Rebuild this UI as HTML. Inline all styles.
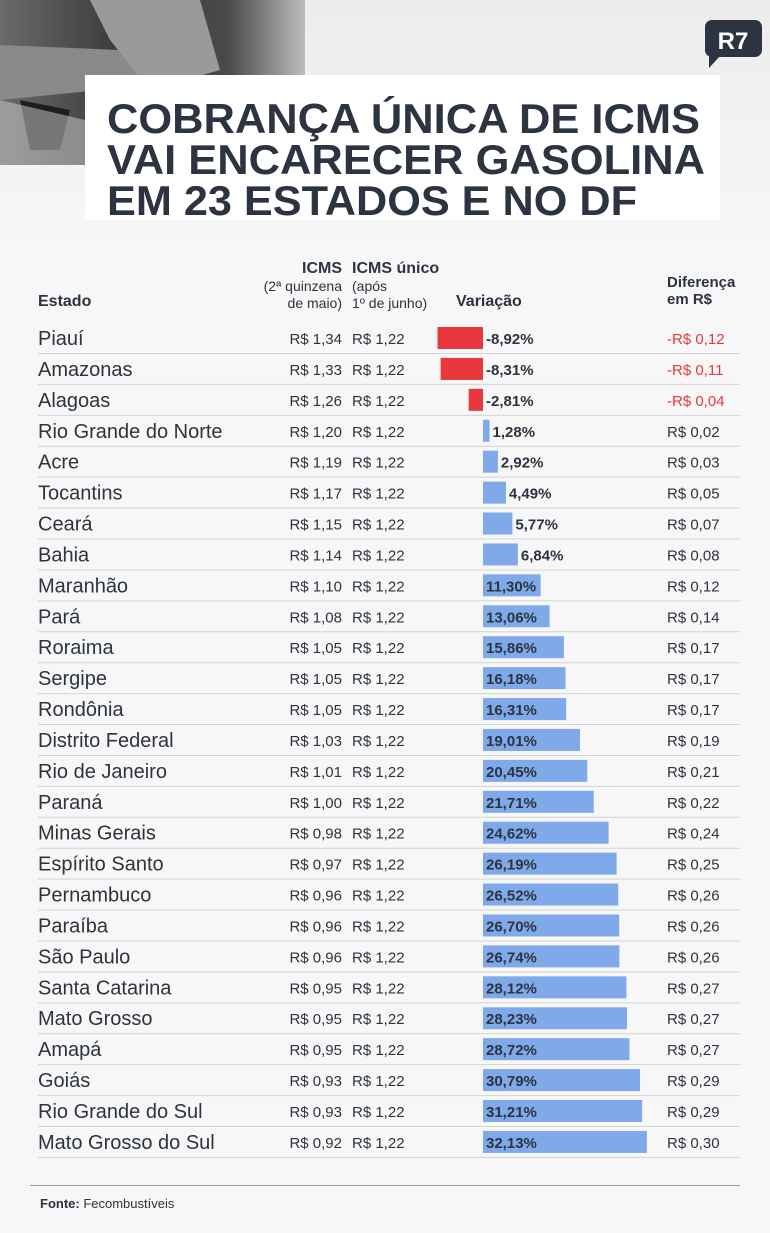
<!DOCTYPE html>
<html><head><meta charset="utf-8">
<style>
html,body{margin:0;padding:0;background:#f7f7f7;}
svg{display:block;font-family:"Liberation Sans",sans-serif;}
</style></head>
<body>
<svg id="s" width="770" height="1233" viewBox="0 0 770 1233" xmlns="http://www.w3.org/2000/svg">
<defs>
<linearGradient id="ph" x1="0" y1="0" x2="1" y2="0">
<stop offset="0" stop-color="#6a6a6a"/><stop offset="0.4" stop-color="#3a3a3a"/><stop offset="0.75" stop-color="#4a4a4a"/><stop offset="1" stop-color="#bdbdbd"/>
</linearGradient>
<linearGradient id="bg" x1="0" y1="0" x2="0" y2="1">
<stop offset="0" stop-color="#ececec"/><stop offset="0.2" stop-color="#f7f7f7"/>
</linearGradient>
</defs>
<rect width="770" height="1233" fill="url(#bg)"/>
<rect x="0" y="0" width="305" height="165" fill="url(#ph)"/>
<path d="M0 45 L120 50 L150 85 L0 100Z" fill="#8a8a8a"/>
<path d="M90 0 L200 0 L220 70 L150 90 L110 40Z" fill="#9a9a9a"/>
<path d="M20 100 L70 110 L60 150 L30 150Z" fill="#1e1e1e"/>
<path d="M0 100 L85 120 L85 165 L0 165Z" fill="#cfcfcf" opacity="0.5"/>
<rect x="705" y="20" width="57" height="37" rx="7" fill="#2b3440"/>
<path d="M709 55 L709 68 L720 56Z" fill="#2b3440"/>
<text x="733" y="49" font-size="24" font-weight="bold" fill="#fff" text-anchor="middle">R7</text>
<rect x="85" y="75" width="635" height="145" fill="#fff"/>
<g font-weight="bold" fill="#2b3440" font-size="42">
<text x="107" y="133" textLength="593" lengthAdjust="spacingAndGlyphs">COBRANÇA ÚNICA DE ICMS</text>
<text x="107" y="174" textLength="598" lengthAdjust="spacingAndGlyphs">VAI ENCARECER GASOLINA</text>
<text x="107" y="215" textLength="530" lengthAdjust="spacingAndGlyphs">EM 23 ESTADOS E NO DF</text>
</g>
<g fill="#2b3440">
<text x="342" y="273" font-size="16" font-weight="bold" text-anchor="end">ICMS</text>
<text x="342" y="291" font-size="14" text-anchor="end">(2ª quinzena</text>
<text x="342" y="308" font-size="14" text-anchor="end">de maio)</text>
<text x="352" y="273" font-size="16" font-weight="bold">ICMS único</text>
<text x="352" y="291" font-size="14">(após</text>
<text x="352" y="308" font-size="14">1º de junho)</text>
<text x="38" y="306" font-size="16" font-weight="bold">Estado</text>
<text x="456" y="306" font-size="16" font-weight="bold">Variação</text>
<text x="667" y="287" font-size="15" font-weight="bold">Diferença</text>
<text x="667" y="304" font-size="15" font-weight="bold">em R$</text>
</g>
<g id="rows"></g>
<line x1="30" y1="1185.5" x2="740" y2="1185.5" stroke="#999" stroke-width="1"/>
<text x="40" y="1208" font-size="13" fill="#2b3440"><tspan font-weight="bold">Fonte:</tspan> Fecombustíveis</text>
</svg>
<script>
var d=[["Piauí","1,34",-8.92,"0,12"],["Amazonas","1,33",-8.31,"0,11"],["Alagoas","1,26",-2.81,"0,04"],["Rio Grande do Norte","1,20",1.28,"0,02"],["Acre","1,19",2.92,"0,03"],["Tocantins","1,17",4.49,"0,05"],["Ceará","1,15",5.77,"0,07"],["Bahia","1,14",6.84,"0,08"],["Maranhão","1,10",11.30,"0,12"],["Pará","1,08",13.06,"0,14"],["Roraima","1,05",15.86,"0,17"],["Sergipe","1,05",16.18,"0,17"],["Rondônia","1,05",16.31,"0,17"],["Distrito Federal","1,03",19.01,"0,19"],["Rio de Janeiro","1,01",20.45,"0,21"],["Paraná","1,00",21.71,"0,22"],["Minas Gerais","0,98",24.62,"0,24"],["Espírito Santo","0,97",26.19,"0,25"],["Pernambuco","0,96",26.52,"0,26"],["Paraíba","0,96",26.70,"0,26"],["São Paulo","0,96",26.74,"0,26"],["Santa Catarina","0,95",28.12,"0,27"],["Mato Grosso","0,95",28.23,"0,27"],["Amapá","0,95",28.72,"0,27"],["Goiás","0,93",30.79,"0,29"],["Rio Grande do Sul","0,93",31.21,"0,29"],["Mato Grosso do Sul","0,92",32.13,"0,30"]];
var h="",z=483,k=5.1;
d.forEach(function(r,i){
 var c=338+i*30.92,v=r[2],w=Math.abs(v)*k,neg=v<0;
 var pct=(v.toFixed(2)).replace(".",",")+"%";
 h+='<line x1="38" y1="'+(c+15.5)+'" x2="740" y2="'+(c+15.5)+'" stroke="#d4d4d4" stroke-width="1"/>';
 h+='<text x="38" y="'+(c+7)+'" font-size="20" fill="#2b3440">'+r[0]+'</text>';
 h+='<text x="342" y="'+(c+6)+'" font-size="15" fill="#2b3440" text-anchor="end">R$ '+r[1]+'</text>';
 h+='<text x="352" y="'+(c+6)+'" font-size="15" fill="#2b3440">R$ 1,22</text>';
 h+='<rect x="'+(neg?z-w:z)+'" y="'+(c-11)+'" width="'+w+'" height="22" fill="'+(neg?"#e8383d":"#7fa9e8")+'"/>';
 var lx=neg?486:(v<9?z+w+3:486);
 h+='<text x="'+lx+'" y="'+(c+6)+'" font-size="15" font-weight="bold" fill="#2b3440">'+pct+'</text>';
 h+='<text x="667" y="'+(c+6)+'" font-size="15" fill="'+(neg?"#e8383d":"#2b3440")+'">'+(neg?"-":"")+'R$ '+r[3]+'</text>';
});
document.getElementById("rows").innerHTML=h;
</script>
</body></html>
